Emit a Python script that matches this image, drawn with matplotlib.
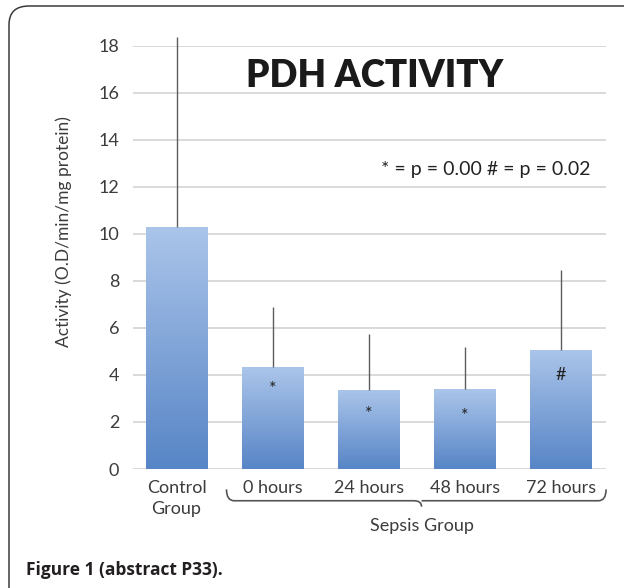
import numpy as np
import matplotlib
matplotlib.use('Agg')
import matplotlib.pyplot as plt
from matplotlib.path import Path
from matplotlib.patches import PathPatch, FancyBboxPatch
from matplotlib.colors import LinearSegmentedColormap
import matplotlib.transforms as mtransforms

# data
groups = ['Control\nGroup', '0 hours', '24 hours', '48 hours', '72 hours']
activity = [10.3, 4.33, 3.36, 3.39, 5.07]
err_upper = [8.05, 2.55, 2.37, 1.81, 3.38]
marks = ['', '*', '*', '*', '#']
mark_y = [0, 3.4, 2.35, 2.25, 4.0]

plt.rcParams['font.family'] = ['Lato', 'DejaVu Sans']
text_color = '#3c3c3c'

fig = plt.figure(figsize=(6.24, 5.88), dpi=100)
ax = fig.add_axes([133 / 624, 1 - 469 / 588, 473 / 624, 423.3 / 588])

x = np.arange(len(groups))

# grid
ax.set_yticks(np.arange(0, 19, 2))
ax.yaxis.grid(True, color='#cfcfcf', lw=1.1)
ax.set_axisbelow(True)
for s in ax.spines.values():
    s.set_visible(False)
ax.tick_params(axis='y', length=0, pad=10, labelsize=13, labelcolor=text_color)
ax.tick_params(axis='x', length=0, pad=8, labelsize=13, labelcolor=text_color)

bars = ax.bar(x, activity, width=0.64, color='none', edgecolor='none', zorder=2)
cmap = LinearSegmentedColormap.from_list('bl', ['#5785c6', '#abc5ea'])
grad = np.linspace(0, 1, 256).reshape(-1, 1)
for b in bars:
    x0, y0 = b.get_x(), b.get_y()
    im = ax.imshow(grad, cmap=cmap, origin='lower', aspect='auto',
                   extent=[x0, x0 + b.get_width(), y0, y0 + b.get_height()],
                   zorder=2)
    im.set_clip_path(b)
ax.set_xlim(-0.4527, 4.469)
ax.set_ylim(0, 18)

ax.errorbar(x, activity, yerr=[np.zeros(len(x)), err_upper], fmt='none',
            ecolor='#5c5c5c', elinewidth=1.0, capsize=0, zorder=3, clip_on=False)

for xi, m, my in zip(x, marks, mark_y):
    if m:
        ax.text(xi, my, m, ha='center', va='center', fontsize=13,
                color='#222222', zorder=4)

ax.set_xticks(x)
ax.set_xticklabels(groups, linespacing=1.4)

# title + note
fig.text(375 / 624, 1 - 76 / 588, 'PDH ACTIVITY', ha='center', va='center',
         fontsize=26.5, fontweight='heavy', color='#1a1a1a')
fig.text(486 / 624, 1 - 170 / 588, '* = p = 0.00 # = p = 0.02', ha='center',
         va='center', fontsize=14, color='#222222')
fig.text(64 / 624, 1 - 232 / 588, 'Activity (O.D/min/mg protein)', rotation=90,
         ha='center', va='center', fontsize=12.5, color=text_color)

# brace under sepsis group
trans = mtransforms.blended_transform_factory(ax.transData, ax.transAxes)
bl, br, bm = 0.52, 4.47, 2.55
yl, yt, yc = -0.075, -0.048, -0.089
dx = 0.08
verts = [(bl, yt), (bl, yl), (bl + dx, yl), (bm - dx, yl), (bm, yl), (bm, yc),
         (bm, yl), (bm, yl), (bm + dx, yl), (br - dx, yl), (br, yl), (br, yt)]
codes = [Path.MOVETO, Path.CURVE3, Path.CURVE3, Path.LINETO, Path.CURVE3, Path.CURVE3,
         Path.MOVETO, Path.LINETO, Path.LINETO, Path.LINETO, Path.CURVE3, Path.CURVE3]
ax.add_patch(PathPatch(Path(verts, codes), transform=trans, fill=False,
                       edgecolor='#555555', lw=1.2, clip_on=False))
ax.text(bm, -0.135, 'Sepsis Group', transform=trans, ha='center', va='center',
        fontsize=13, color=text_color)

# caption and frame
fig.text(26 / 624, 1 - 570 / 588, 'Figure 1 (abstract P33).', ha='left',
         va='center', fontsize=12.5, fontweight='bold', color='#231f20',
         family=['Open Sans', 'DejaVu Sans'])
frame = FancyBboxPatch((9 / 624, -0.1), 1.05, 1.1 - 6 / 588,
                       boxstyle='round,pad=0,rounding_size=0.032',
                       transform=fig.transFigure, fill=False,
                       edgecolor='#3a3a3a', lw=1.1, clip_on=False)
fig.patches.append(frame)

fig.savefig('out.png', dpi=100)
